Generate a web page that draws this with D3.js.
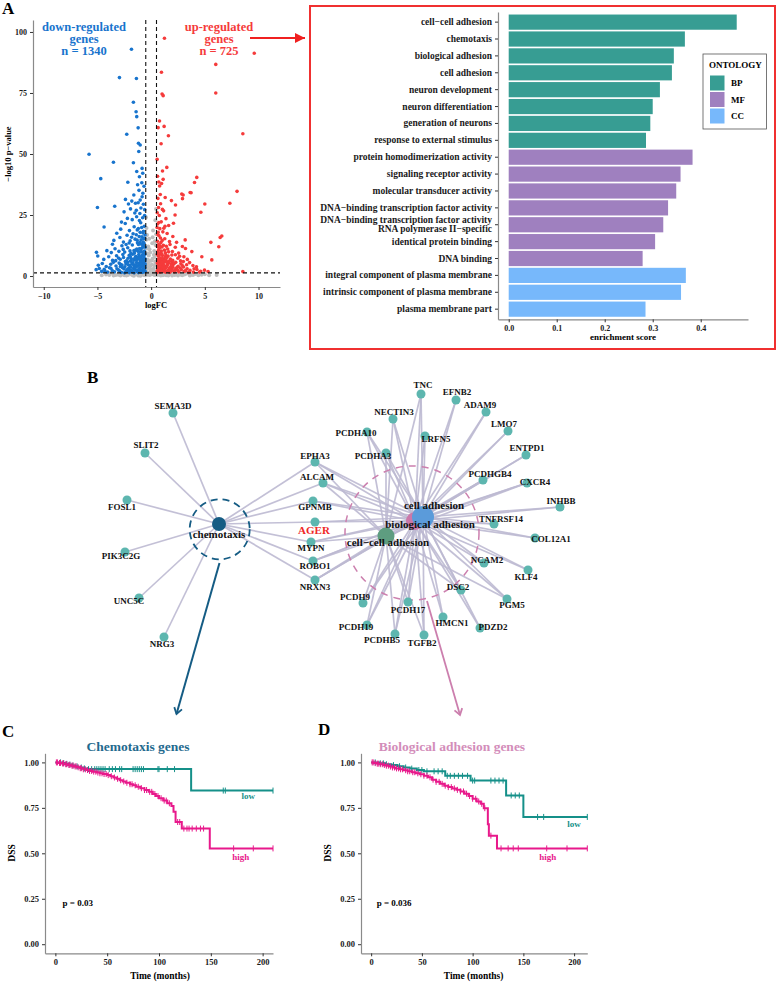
<!DOCTYPE html>
<html>
<head>
<meta charset="utf-8">
<script src="https://cdn.jsdelivr.net/npm/d3@7"></script>
<style>
  body { margin: 0; background: #fff; }
  svg text { font-family: "Liberation Serif", "Times New Roman", serif; font-weight: bold; }
</style>
</head>
<body>
<svg id="fig" width="777" height="984"></svg>
<script>
// ---------- data: volcano (logFC, -log10 p) ----------
const volcanoNS = [
  [-0.45,1.1],[-0.38,2.9],[-0.31,5.2],[-0.22,8.4],[-0.14,3.7],[-0.05,1.9],[0.06,4.6],[0.13,7.1],[0.21,2.4],[0.29,10.2],
  [0.37,5.9],[0.44,1.6],[-0.41,6.8],[-0.27,12.1],[-0.18,15.3],[-0.09,9.6],[0.02,6.3],[0.1,13.4],[0.18,18.6],[0.25,3.1],
  [0.33,7.8],[0.41,12.7],[-0.35,9.2],[-0.46,14.9],[0.47,17.1],[0.39,22.8],[-0.43,19.7],[0.46,27.5],[-0.48,24.1],[-0.25,0.8],
  [0.22,0.6],[-0.12,0.4],[0.08,0.9],[-0.33,3.6],[0.31,4.4],[-0.2,5.8],[0.16,2.2],[-0.4,11.3],[0.42,8.9],[-0.07,2.8],
  [-4.2,0.6],[-3.8,1.1],[-3.3,0.4],[-2.9,0.9],[-2.5,0.3],[-2.1,1.0],[-1.8,0.5],[-1.5,1.2],[-1.2,0.2],[-0.9,0.8],
  [-0.7,0.4],[0.7,0.5],[1.0,1.1],[1.4,0.3],[1.8,0.9],[2.2,0.4],[2.7,1.0],[3.1,0.6],[3.6,0.2],[4.1,0.8],
  [4.7,0.5],[5.4,0.3],[-3.5,0.2],[-2.7,0.7],[-1.6,0.1],[1.2,0.6],[2.5,0.2],[3.4,1.2],[0.9,0.2],[-1.0,0.1],
  [-2.3,0.2],[-1.35,0.7],[-0.6,1.0],[0.6,0.9],[1.6,0.2],[2.0,0.7],[2.9,0.3],[3.9,0.4],[-4.6,0.3],[6.1,0.4],
  [-3.05,0.5],[-2.85,0.2],[-2.45,0.9],[-2.15,0.4],[-1.95,1.1],[-1.7,0.3],[-1.42,0.8],[-1.1,0.5],[-0.82,1.2],[-0.55,0.3],
  [-0.3,1.3],[0.0,0.7],[0.3,1.2],[0.55,0.4],[0.8,1.0],[1.1,0.3],[1.3,1.0],[1.55,0.5],[1.95,0.2],[2.35,0.9],
  [2.8,0.5],[3.25,0.9],[3.75,0.6],[4.4,0.3],[5.0,0.7],[-3.9,0.4],[-0.28,6.6],[0.26,8.7],[-0.15,11.0],[0.14,15.9],
  [-0.38,16.8],[0.35,14.2],[-0.08,4.2],[0.05,2.4],[-0.44,4.3],[0.45,5.2],[-0.16,1.2],[0.12,1.5],[-0.32,0.5],[0.34,0.4]
];
const volcanoDown = [
  [-1.83,92.9],[-2.95,81.3],[-1.37,80.9],[-1.65,71.2],[-1.4,67.3],[-1.34,65.3],[-1.21,60.7],[-2.27,58.1],[-1.18,54.4],[-1.02,53.7],
  [-5.78,49.9],[-1.15,51],[-1.65,46.4],[-3.51,46.6],[-4.69,39.9],[-2.17,38.4],[-1.09,40.7],[-0.84,44.1],[-0.78,42.1],[-1.34,42.8],
  [-2.39,31.4],[-5.0,28.1],[-3.39,28.6],[-2.11,29.5],[-1.8,30.7],[-1.46,29.8],[-1.21,30],[-1.02,31.1],[-0.84,32.5],[-4.38,20.1],
  [-2.76,22.1],[-5.09,9.7],[-4.97,8.2],[-3.2,17.5],[-3.6,13],
  [-5.12,2.6],[-4.83,3.1],[-4.61,1.9],[-4.37,2.8],[-4.05,1.6],[-3.88,3.4],[-3.62,2.2],[-3.41,1.7],[-3.18,3.0],[-2.95,2.1],
  [-2.77,1.5],[-2.52,2.9],[-2.31,1.8],[-2.08,3.3],[-1.93,2.4],[-1.71,1.6],[-1.49,2.7],[-1.28,1.9],[-1.06,3.2],[-0.87,2.3],
  [-0.66,1.7],[-0.58,3.5],[-0.74,2.9],[-1.17,2.5],[-1.62,3.1],[-2.21,2.6],[-2.66,3.4],[-3.05,2.5],
  [-4.92,4.4],[-4.55,5.1],[-4.18,3.9],[-3.76,4.8],[-3.52,5.6],[-3.27,4.1],[-2.98,5.3],[-2.71,4.5],[-2.44,3.8],[-2.19,5.7],
  [-1.98,4.3],[-1.79,5.0],[-1.55,3.9],[-1.36,5.5],[-1.12,4.6],[-0.95,3.7],[-0.79,5.2],[-0.62,4.4],[-0.68,5.9],[-0.88,5.8],
  [-1.24,4.0],[-1.66,4.7],[-2.35,4.9],[-2.86,3.9],[-0.57,5.0],[-1.03,5.4],
  [-4.41,6.8],[-3.95,7.9],[-3.59,6.4],[-3.22,8.3],[-2.88,6.9],[-2.57,7.6],[-2.29,6.2],[-2.04,8.5],[-1.84,7.1],[-1.61,6.5],
  [-1.43,8.1],[-1.21,7.0],[-1.01,6.3],[-0.83,8.6],[-0.65,7.3],[-0.59,6.2],[-0.74,6.9],[-0.92,7.8],[-1.15,8.8],[-1.37,6.6],
  [-1.72,8.9],[-2.15,7.3],[-2.63,8.8],[-3.04,7.4],
  [-4.12,10.4],[-3.71,9.6],[-3.36,11.2],[-3.0,10.1],[-2.72,12.4],[-2.46,9.8],[-2.18,11.6],[-1.97,10.3],[-1.75,12.7],[-1.56,9.4],
  [-1.33,11.0],[-1.18,12.9],[-0.99,9.9],[-0.81,11.7],[-0.63,10.2],[-0.7,12.5],[-0.9,13.0],[-1.07,11.3],[-1.45,10.6],[-1.88,9.2],
  [-2.33,12.9],[-0.58,9.1],
  [-3.47,14.6],[-2.91,15.8],[-2.58,13.9],[-2.24,16.7],[-1.95,14.4],[-1.68,17.3],[-1.49,15.1],[-1.27,13.6],[-1.11,16.2],[-0.94,14.8],
  [-0.76,17.6],[-0.62,15.5],[-0.66,13.4],[-0.85,16.1],[-1.02,17.9],[-1.38,16.9],[-1.82,15.9],[-2.05,13.5],
  [-2.83,19.2],[-2.41,21.5],[-2.02,18.6],[-1.76,23.1],[-1.58,20.2],[-1.35,24.3],[-1.19,19.5],[-0.97,21.8],[-0.79,23.9],[-0.64,20.4],
  [-0.71,18.3],[-0.88,19.9],[-1.09,22.7],[-1.29,18.9],[-0.61,24.8],[-2.21,23.6],
  [-2.52,26.3],[-1.92,27.5],[-1.61,33.2],[-1.38,26.9],[-1.13,35.1],[-0.95,27.9],[-0.72,29.4],[-0.66,36.8],[-0.87,38.2],[-1.05,25.6],
  [-1.26,37.4],[-0.77,33.9],[-1.52,25.8],[-0.6,27.2],
  [-2.47,1.3],[-2.26,2.2],[-2.03,1.4],[-1.87,3.6],[-1.77,2.1],[-1.58,1.3],[-1.41,3.7],[-1.33,2.3],[-1.19,1.4],[-1.11,2.8],
  [-0.98,1.6],[-0.93,4.1],[-0.81,1.5],[-0.72,3.9],[-0.63,2.6],[-0.55,1.9],[-0.6,4.7],[-0.71,4.6],[-0.84,4.4],[-1.0,4.9],
  [-1.21,5.2],[-1.45,4.5],[-1.7,5.4],[-1.92,6.1],[-2.12,4.6],[-2.4,5.9],[-0.56,7.0],[-0.69,8.1],[-0.78,6.2],[-0.97,7.1],
  [-1.07,8.0],[-1.28,7.7],[-1.52,7.3],[-1.94,8.0],[-0.61,8.8],[-0.77,9.7],[-0.94,10.8],[-1.22,10.1],[-1.6,10.4],[-0.56,11.8],
  [-0.74,13.9],[-1.04,13.7],[-0.57,16.8],[-0.7,15.3],[-1.3,14.7],[-2.6,10.9],[-3.3,6.3],[-2.85,4.8],[-3.75,3.2],[-4.3,2.0]
];
const volcanoUp = [
  [1.24,97.4],[9.6,91.3],[6.02,86.7],[0.96,83.5],[1.02,74.6],[1.12,73.9],[6.02,75],[0.78,63.5],[1.21,61.3],[0.65,60.8],
  [1.61,57.5],[8.54,58.3],[0.93,54.2],[0.56,47.8],[1.46,44.5],[4.25,40.4],[4.04,38.3],[1.06,43],[8.0,34.7],[3.63,34.2],
  [2.92,31.7],[2.98,33.2],[5.0,29.5],[7.33,29.8],[1.89,30.9],[2.27,29.1],[4.63,26.1],[6.58,16.4],[6.43,15.8],[5.56,13.8],
  [6.3,12],[8.54,1.8],[5.3,1.8],[2.85,33.6],[3.72,34.1],[2.23,25],[2.08,21.6],[3.17,14.8],[3.79,10],[4.72,7.9],[5.65,6.6],
  [0.58,2.1],[0.71,3.2],[0.86,1.6],[1.02,2.7],[1.19,1.9],[1.37,3.4],[1.55,2.2],[1.74,1.5],[1.92,2.9],[2.13,2.0],
  [2.34,3.1],[2.58,1.7],[2.81,2.6],[3.07,1.9],[3.35,3.0],[3.62,2.3],[3.94,1.6],[4.26,2.7],[4.61,1.9],[4.97,2.4],
  [0.64,2.7],[0.93,3.0],[1.28,2.5],[1.66,2.8],[2.22,2.5],[2.71,3.3],[3.21,2.2],[0.79,1.8],
  [0.61,4.2],[0.76,5.3],[0.92,3.8],[1.08,4.9],[1.26,5.7],[1.43,4.1],[1.61,5.2],[1.83,3.9],[2.05,4.7],[2.29,5.6],
  [2.52,4.0],[2.77,5.0],[3.02,3.7],[3.31,4.6],[3.58,5.5],[3.89,4.3],[4.22,3.8],[0.68,5.9],[0.99,4.5],[1.17,3.7],
  [1.52,4.6],[1.95,5.8],[2.41,3.6],
  [0.6,6.6],[0.74,7.8],[0.89,6.3],[1.05,8.4],[1.21,7.1],[1.39,6.5],[1.58,8.2],[1.79,7.0],[2.01,6.4],[2.26,8.7],
  [2.49,7.3],[2.74,6.2],[3.05,7.9],[3.37,6.8],[0.83,8.9],[1.13,6.0],[1.47,7.6],[0.66,8.3],[1.93,8.6],
  [0.62,9.8],[0.77,11.4],[0.95,10.2],[1.14,12.6],[1.33,9.5],[1.54,11.1],[1.76,12.9],[1.98,10.0],[2.25,11.8],[2.56,9.4],
  [2.91,12.1],[0.7,12.9],[1.01,11.9],[1.41,12.2],[0.86,9.3],[3.2,11.3],
  [0.59,14.2],[0.73,16.5],[0.91,13.7],[1.09,18.1],[1.27,15.3],[1.49,17.4],[1.71,14.1],[2.02,16.2],[2.37,13.8],[0.81,19.4],
  [0.65,17.9],[1.18,19.6],
  [0.6,21.3],[0.76,24.8],[0.94,22.2],[1.16,26.7],[1.38,23.5],[1.63,20.7],[0.69,28.1],[0.88,29.6],[1.05,27.3],[0.57,25.9],
  [1.29,20.4],[0.63,31.8],[0.79,36.9],[0.72,38.5],[0.97,37.9],[0.6,40.9],[1.12,39.6],[0.85,33.4],[1.31,32.2],
  [0.56,1.5],[0.67,3.7],[0.74,2.4],[0.84,4.1],[0.98,1.9],[1.09,3.5],[1.23,2.9],[1.33,1.6],[1.45,3.9],[1.6,1.8],
  [1.72,3.3],[1.87,2.2],[2.03,3.6],[2.18,1.7],[2.46,2.4],[0.58,5.3],[0.72,6.8],[0.81,4.8],[0.97,5.7],[1.04,7.2],
  [1.18,4.4],[1.32,7.9],[1.48,5.6],[1.69,6.1],[1.88,5.0],[2.15,5.1],[0.57,8.9],[0.69,10.6],[0.84,7.3],[0.99,9.1],
  [1.24,10.6],[1.37,8.6],[1.63,9.9],[0.58,12.1],[0.82,12.4],[1.03,14.6],[0.62,17.0],[0.87,15.6],[0.56,19.9],[0.72,21.9],
  [2.9,4.3],[3.5,1.5],[4.0,3.0],[4.5,1.6],[2.65,8.1],[3.0,5.9]
];
const volcanoXTicks = [-10, -5, 0, 5, 10];
const volcanoYTicks = [0, 25, 50, 75, 100];
const fcCut = 0.5, pCut = 1.3;
const downCount = 1340, upCount = 725;

// ---------- data: GO enrichment ----------
const goTerms = [
  "cell−cell adhesion", "chemotaxis", "biological adhesion", "cell adhesion", "neuron development",
  "neuron differentiation", "generation of neurons", "response to external stimulus",
  "protein homodimerization activity", "signaling receptor activity", "molecular transducer activity",
  "DNA−binding transcription factor activity",
  "DNA−binding transcription factor activity\nRNA polymerase II−specific",
  "identical protein binding", "DNA binding", "integral component of plasma membrane",
  "intrinsic component of plasma membrane", "plasma membrane part"
];
const goScores = [0.475, 0.367, 0.344, 0.340, 0.315, 0.300, 0.295, 0.286, 0.383, 0.358, 0.349, 0.332, 0.322, 0.305, 0.279, 0.369, 0.359, 0.285];
const goOntology = ["BP","BP","BP","BP","BP","BP","BP","BP","MF","MF","MF","MF","MF","MF","MF","CC","CC","CC"];
const ontologyLevels = ["BP", "MF", "CC"];
const scoreTicks = [0, 0.1, 0.2, 0.3, 0.4];

// ---------- data: network (layout coordinates) ----------
const geneNodes = [
  ["SEMA3D",63,33],["SLIT2",35,73],["FOSL1",17,120],["PIK3C2G",15,172],["UNC5C",29,218],["NRG3",54,257],
  ["EPHA3",205,82],["ALCAM",213,103],["GPNMB",203,121],["AGER",205,142],["MYPN",201,162],["ROBO1",203,181],["NRXN3",205,200],
  ["PCDH9",253,223],["PCDH19",257,245],["PCDHB5",285,254],["TGFB2",314,255],["HMCN1",333,237],["PDZD2",370,248],
  ["PGM5",397,219],["DSC2",351,210],["PCDH17",298,222],["KLF4",418,190],["NCAM2",374,183],["COL12A1",425,158],
  ["TNFRSF14",384,144],["INHBB",450,127],["CXCR4",417,103],["PCDHGB4",373,100],["ENTPD1",416,75],["LMO7",398,51],
  ["ADAM9",376,32],["EFNB2",346,20],["TNC",311,14],["NECTIN3",283,39],["LRFN5",315,56],["PCDHA10",257,52],["PCDHA3",276,73]
];
const termNodes = [
  ["chemotaxis",109,144],["biological adhesion",305,141],["cell−cell adhesion",276,156],["cell adhesion",313,137]
];
const chemotaxisGenes = ["SEMA3D","SLIT2","FOSL1","PIK3C2G","UNC5C","NRG3","EPHA3","ALCAM","GPNMB","AGER","MYPN","ROBO1","NRXN3"];
const adhesionGenes = ["EPHA3","ALCAM","GPNMB","AGER","MYPN","ROBO1","NRXN3","PCDH9","PCDH19","PCDHB5","TGFB2","HMCN1","PDZD2",
  "PGM5","DSC2","PCDH17","KLF4","NCAM2","COL12A1","TNFRSF14","INHBB","CXCR4","PCDHGB4","ENTPD1","LMO7","ADAM9","EFNB2","TNC",
  "NECTIN3","LRFN5","PCDHA10","PCDHA3"];
const cellCellGenes = ["PCDHA10","PCDHA3","NECTIN3","PCDH9","PCDH19","PCDHB5","PCDH17","PCDHGB4","DSC2","ALCAM","ROBO1",
  "MYPN","NRXN3","EPHA3","TGFB2","PGM5","CXCR4","TNC"];

// ---------- data: survival curves [months, DSS] ----------
const chemoLow = [[0,1],[6,0.996],[10,0.992],[13,0.988],[16,0.983],[19,0.978],[22,0.972],[26,0.967],[30,0.963],[131,0.845],[210,0.845]];
const chemoLowCens = [5,8,11,14,17,21,25,28,32,35,38,40,42,44,46,48,52,55,58,62,64,75,77,79,81,83,85,99,100,108,115,162,164,210];
const chemoHigh = [[0,1],[3,0.997],[6,0.994],[9,0.99],[12,0.986],[15,0.982],[18,0.978],[21,0.973],[24,0.968],[27,0.962],
  [30,0.958],[33,0.953],[36,0.949],[40,0.944],[43,0.94],[46,0.936],[50,0.93],[53,0.924],[56,0.917],[59,0.91],[62,0.902],
  [65,0.895],[68,0.888],[72,0.88],[75,0.874],[78,0.866],[82,0.858],[86,0.848],[90,0.838],[94,0.826],[97,0.815],[100,0.803],
  [104,0.79],[108,0.775],[112,0.76],[114,0.728],[116,0.672],[122,0.636],[149,0.527],[210,0.527]];
const chemoHighCens = [1,2,4,5,7,8,10,11,13,14,16,17,19,20,22,24,25,27,29,31,33,35,37,39,41,43,45,47,49,51,54,57,60,63,66,69,
  72,74,77,80,83,86,88,91,93,96,99,102,105,107,110,118,120,124,127,129,132,136,140,143,172,191,210];
const adhLow = [[0,1],[8,0.995],[14,0.99],[20,0.985],[26,0.979],[32,0.972],[38,0.966],[45,0.958],[52,0.951],[73,0.926],
  [98,0.9],[133,0.818],[150,0.70],[213,0.70]];
const adhLowCens = [4,9,12,15,22,28,34,40,47,50,55,62,66,70,75,78,82,86,90,95,100,102,118,122,126,130,138,142,146,164,170,213];
const adhHigh = [[0,1],[3,0.996],[6,0.993],[9,0.99],[12,0.986],[15,0.982],[18,0.977],[21,0.972],[24,0.967],[28,0.962],
  [32,0.957],[36,0.951],[40,0.946],[44,0.94],[48,0.935],[52,0.927],[56,0.918],[60,0.905],[64,0.893],[68,0.882],[72,0.872],
  [76,0.864],[80,0.857],[84,0.849],[88,0.84],[92,0.828],[96,0.815],[100,0.8],[104,0.785],[108,0.772],[111,0.748],
  [115,0.66],[116,0.597],[124,0.527],[213,0.527]];
const adhHighCens = [1,2,4,6,7,9,11,13,15,17,19,21,23,25,27,29,31,34,36,38,41,43,46,49,52,55,58,61,64,67,70,73,76,79,82,
  85,88,91,94,97,100,103,106,109,112,118,128,135,140,145,173,193,213];
const survXTicks = [0, 50, 100, 150, 200];
const survYTicks = [0, 0.25, 0.5, 0.75, 1];

// ---------- colours ----------
const colDown = "#1874CD", colUp = "#F53B3B", colNS = "#BEBEBE";
const ontoColor = d3.scaleOrdinal().domain(ontologyLevels).range(["#379D93", "#9F80BF", "#77B8FB"]);
const colLow = "#159089", colHigh = "#E8198B";
const colChemo = "#155C84", colAdh = "#CC7FAE";

const svg = d3.select("#fig");
const defs = svg.append("defs");
defs.append("marker").attr("id", "arrRed").attr("viewBox", "-10 -5 10 10").attr("refX", 0).attr("refY", 0)
  .attr("markerWidth", 10).attr("markerHeight", 10).attr("markerUnits", "userSpaceOnUse").attr("orient", "auto")
  .append("path").attr("d", "M-10,-5L0,0L-10,5Z").attr("fill", "#F02020");
[["arrBlue", colChemo], ["arrPink", colAdh]].forEach(([id, c]) => {
  defs.append("marker").attr("id", id).attr("viewBox", "-8 -5 10 10").attr("refX", 0).attr("refY", 0)
    .attr("markerWidth", 10).attr("markerHeight", 10).attr("markerUnits", "userSpaceOnUse").attr("orient", "auto")
    .append("path").attr("d", "M-6,-4L0,0L-6,4").attr("fill", "none").attr("stroke", c).attr("stroke-width", 1.8);
});

function styleAxis(g, fs) {
  g.attr("font-size", fs);
  g.select(".domain").attr("stroke", "#8a8a8a").attr("stroke-width", 1.2);
  g.selectAll(".tick line").attr("stroke", "#333");
  g.selectAll(".tick text").attr("fill", "#1a1a1a");
}

function panelLetter(t, x, y) {
  svg.append("text").attr("x", x).attr("y", y).attr("font-size", 17).text(t);
}

// ======== A: volcano ========
panelLetter("A", 2, 14);
const vx = d3.scaleLinear().domain([-11, 12]).range([33, 280]);
const vy = d3.scaleLinear().domain([-4.5, 104.9]).range([287, 20]);

const vPts = svg.append("g");
vPts.selectAll(".ns").data(volcanoNS).join("circle")
  .attr("cx", d => vx(d[0])).attr("cy", d => vy(d[1])).attr("r", 2).attr("fill", colNS);
vPts.selectAll(".dn").data(volcanoDown).join("circle")
  .attr("cx", d => vx(d[0])).attr("cy", d => vy(d[1])).attr("r", 1.8).attr("fill", colDown);
vPts.selectAll(".up").data(volcanoUp).join("circle")
  .attr("cx", d => vx(d[0])).attr("cy", d => vy(d[1])).attr("r", 1.8).attr("fill", colUp);

const dash = svg.append("g").attr("stroke", "#111").attr("stroke-width", 1.1).attr("stroke-dasharray", "4,3");
[-fcCut, fcCut].forEach(v => dash.append("line").attr("x1", vx(v)).attr("x2", vx(v)).attr("y1", 20).attr("y2", 287));
dash.append("line").attr("x1", 33).attr("x2", 280).attr("y1", vy(pCut)).attr("y2", vy(pCut));

svg.append("g").attr("transform", "translate(0,287)")
  .call(d3.axisBottom(vx).tickValues(volcanoXTicks).tickSize(3).tickSizeOuter(0))
  .call(g => styleAxis(g, 8));
svg.append("g").attr("transform", "translate(33,0)")
  .call(d3.axisLeft(vy).tickValues(volcanoYTicks).tickSize(3).tickSizeOuter(0))
  .call(g => styleAxis(g, 8));
svg.append("text").attr("x", 156).attr("y", 308).attr("text-anchor", "middle").attr("font-size", 8.5).text("logFC");
svg.append("text").attr("transform", "translate(11,154) rotate(-90)").attr("text-anchor", "middle")
  .attr("font-size", 8.5).text("−log10 p−value");

const downTxt = svg.append("text").attr("text-anchor", "middle").attr("font-size", 12.5).attr("fill", colDown);
["down-regulated", "genes", "n = " + downCount].forEach((t, i) =>
  downTxt.append("tspan").attr("x", 84).attr("y", 31 + i * 12.2).text(t));
const upTxt = svg.append("text").attr("text-anchor", "middle").attr("font-size", 12.5).attr("fill", colUp);
["up-regulated", "genes", "n = " + upCount].forEach((t, i) =>
  upTxt.append("tspan").attr("x", 219).attr("y", 31 + i * 12.2).text(t));

svg.append("line").attr("x1", 250).attr("y1", 38).attr("x2", 305).attr("y2", 38)
  .attr("stroke", "#F02020").attr("stroke-width", 1.8).attr("marker-end", "url(#arrRed)");

// ======== A: GO bar chart ========
svg.append("rect").attr("x", 310).attr("y", 6).attr("width", 465).attr("height", 343)
  .attr("fill", "none").attr("stroke", "#F03030").attr("stroke-width", 2);

const bx = d3.scaleLinear().domain([-0.0223, 0.4985]).range([498, 748]);
const by = d3.scaleBand().domain(goTerms).range([12, 319.3]).paddingInner(0.1).paddingOuter(0.15);

svg.append("g").selectAll("rect").data(goTerms).join("rect")
  .attr("x", bx(0)).attr("y", d => by(d))
  .attr("width", (d, i) => bx(goScores[i]) - bx(0)).attr("height", by.bandwidth())
  .attr("fill", (d, i) => ontoColor(goOntology[i]));

const yAx = svg.append("g").attr("transform", "translate(498,0)")
  .call(d3.axisLeft(by).tickSize(3).tickSizeOuter(0))
  .call(g => styleAxis(g, 9.5));
yAx.selectAll(".tick text").each(function (d) {
  const lines = d.split("\n");
  if (lines.length < 2) return;
  const t = d3.select(this).text(null);
  lines.forEach((l, i) => t.append("tspan").attr("x", -6).attr("dy", i === 0 ? "-0.2em" : "1.0em").text(l));
});
svg.append("g").attr("transform", "translate(0,319.3)")
  .call(d3.axisBottom(bx).tickValues(scoreTicks).tickFormat(d3.format(".1f")).tickSize(3).tickSizeOuter(0))
  .call(g => styleAxis(g, 8));
svg.append("text").attr("x", 623).attr("y", 340).attr("text-anchor", "middle").attr("font-size", 9).text("enrichment score");

const leg = svg.append("g").attr("transform", "translate(703,54)");
leg.append("rect").attr("width", 63.5).attr("height", 75).attr("fill", "#fff").attr("stroke", "#555").attr("stroke-width", 0.8);
leg.append("text").attr("x", 6).attr("y", 14).attr("font-size", 9).text("ONTOLOGY");
ontologyLevels.forEach((k, i) => {
  leg.append("rect").attr("x", 7).attr("y", 21.5 + i * 16.5).attr("width", 14.5).attr("height", 15).attr("fill", ontoColor(k));
  leg.append("text").attr("x", 28).attr("y", 32 + i * 16.5).attr("font-size", 9).text(k);
});

// ======== B: network ========
panelLetter("B", 87, 383);
const nx = d3.scaleLinear().domain([0, 460]).range([110, 570]);
const ny = d3.scaleLinear().domain([0, 270]).range([380, 650]);
const pos = {};
geneNodes.concat(termNodes).forEach(([n, x, y]) => { pos[n] = [nx(x), ny(y)]; });

const edges = [];
chemotaxisGenes.forEach(g => edges.push(["chemotaxis", g]));
adhesionGenes.forEach(g => { edges.push(["biological adhesion", g]); edges.push(["cell adhesion", g]); });
cellCellGenes.forEach(g => edges.push(["cell−cell adhesion", g]));

svg.append("g").selectAll("line").data(edges).join("line")
  .attr("x1", d => pos[d[0]][0]).attr("y1", d => pos[d[0]][1])
  .attr("x2", d => pos[d[1]][0]).attr("y2", d => pos[d[1]][1])
  .attr("stroke", "#BDB9D2").attr("stroke-width", 1.7).attr("stroke-opacity", 0.9);

svg.append("circle").attr("cx", nx(109.7)).attr("cy", ny(149.3)).attr("r", 30)
  .attr("fill", "none").attr("stroke", colChemo).attr("stroke-width", 1.8).attr("stroke-dasharray", "7,5");
svg.append("circle").attr("cx", nx(302)).attr("cy", ny(153)).attr("r", 67)
  .attr("fill", "none").attr("stroke", colAdh).attr("stroke-width", 1.5).attr("stroke-dasharray", "7,6");

svg.append("g").selectAll("circle").data(geneNodes).join("circle")
  .attr("cx", d => pos[d[0]][0]).attr("cy", d => pos[d[0]][1]).attr("r", 4.5).attr("fill", "#5DB6AF");

const hubStyle = {
  "chemotaxis": [7, colChemo], "biological adhesion": [9, "#CB78A9"],
  "cell−cell adhesion": [8.5, "#5E9D80"], "cell adhesion": [11, "#5B9BDA"]
};
svg.append("g").selectAll("circle").data(termNodes).join("circle")
  .attr("cx", d => pos[d[0]][0]).attr("cy", d => pos[d[0]][1])
  .attr("r", d => hubStyle[d[0]][0]).attr("fill", d => hubStyle[d[0]][1]);

const labelOffset = {
  SEMA3D:[0,-7],SLIT2:[1,-8],FOSL1:[-5,7],PIK3C2G:[-4,4],UNC5C:[-10,3],NRG3:[-2,7],EPHA3:[0,-6],ALCAM:[-6,-6],
  GPNMB:[2,6],AGER:[-1,8],MYPN:[0,6],ROBO1:[2,5],NRXN3:[0,7],PCDH9:[-8,-6],PCDH19:[-11,2],PCDHB5:[-13,6],TGFB2:[-2,8],
  HMCN1:[9,6],PDZD2:[13,-1],PGM5:[5,6],DSC2:[-3,-3],PCDH17:[0,8],KLF4:[-2,7],NCAM2:[3,-3],COL12A1:[16,1],
  TNFRSF14:[7,-5],INHBB:[1,-6],CXCR4:[8,-1],PCDHGB4:[7,-6],ENTPD1:[1,-7],LMO7:[-4,-7],ADAM9:[-6,-7],EFNB2:[1,-8],
  TNC:[2,-9],NECTIN3:[1,-7],LRFN5:[11,3],PCDHA10:[-11,1],PCDHA3:[-13,3],
  "chemotaxis":[0,10],"cell adhesion":[11,-12],"biological adhesion":[15,3],"cell−cell adhesion":[2,6]
};
svg.append("g").selectAll("text").data(geneNodes.concat(termNodes)).join("text")
  .attr("x", d => pos[d[0]][0] + labelOffset[d[0]][0])
  .attr("y", d => pos[d[0]][1] + labelOffset[d[0]][1])
  .attr("dy", "0.35em").attr("text-anchor", "middle")
  .attr("font-size", d => d[0] === "AGER" ? 11 : (hubStyle[d[0]] ? 11 : 9))
  .attr("fill", d => d[0] === "AGER" ? "#F02828" : "#111")
  .text(d => d[0]);

svg.append("line").attr("x1", nx(109.5)).attr("y1", ny(183)).attr("x2", 176.5).attr("y2", 714)
  .attr("stroke", colChemo).attr("stroke-width", 2).attr("marker-end", "url(#arrBlue)");
svg.append("line").attr("x1", nx(317)).attr("y1", ny(221)).attr("x2", 460).attr("y2", 715)
  .attr("stroke", colAdh).attr("stroke-width", 1.8).attr("marker-end", "url(#arrPink)");

// ======== C / D: survival ========
function stepAt(curve, t) {
  let s = curve[0][1];
  curve.forEach(([tt, ss]) => { if (tt <= t) s = ss; });
  return s;
}

function drawKM(o) {
  const x = d3.scaleLinear().domain(o.xDomain).range([o.left, o.right]);
  const y = d3.scaleLinear().domain([-0.05, 1.05]).range([953.3, 753.3]);
  const g = svg.append("g");
  const line = d3.line().x(d => x(d[0])).y(d => y(d[1])).curve(d3.curveStepAfter);
  [[o.low, o.lowCens, colLow], [o.high, o.highCens, colHigh]].forEach(([curve, cens, c]) => {
    g.append("path").datum(curve).attr("d", line).attr("fill", "none").attr("stroke", c).attr("stroke-width", 2);
    g.selectAll(null).data(cens).join("line")
      .attr("x1", t => x(t)).attr("x2", t => x(t))
      .attr("y1", t => y(stepAt(curve, t)) - 3).attr("y2", t => y(stepAt(curve, t)) + 3)
      .attr("stroke", c).attr("stroke-width", 1);
  });
  svg.append("g").attr("transform", "translate(0,953.3)")
    .call(d3.axisBottom(x).tickValues(survXTicks).tickSize(3).tickSizeOuter(0))
    .call(a => styleAxis(a, 8.5));
  svg.append("g").attr("transform", `translate(${o.left},0)`)
    .call(d3.axisLeft(y).tickValues(survYTicks).tickFormat(d3.format(".2f")).tickSize(3).tickSizeOuter(0))
    .call(a => styleAxis(a, 8.5));
  svg.append("text").attr("x", (x(0) + x(200)) / 2 + 1).attr("y", 979).attr("text-anchor", "middle")
    .attr("font-size", 9.5).text("Time (months)");
  svg.append("text").attr("transform", `translate(${o.left - 30},853) rotate(-90)`).attr("text-anchor", "middle")
    .attr("font-size", 9.5).text("DSS");
  svg.append("text").attr("x", o.titleX).attr("y", 751).attr("text-anchor", "middle").attr("font-size", 13.5)
    .attr("fill", o.titleColor).text(o.title);
  svg.append("text").attr("x", x(o.lowLabel[0])).attr("y", y(o.lowLabel[1])).attr("text-anchor", "middle")
    .attr("font-size", 9).attr("fill", colLow).text("low");
  svg.append("text").attr("x", x(o.highLabel[0])).attr("y", y(o.highLabel[1])).attr("text-anchor", "middle")
    .attr("font-size", 9).attr("fill", colHigh).text("high");
  svg.append("text").attr("x", x(o.pPos[0])).attr("y", y(o.pPos[1])).attr("font-size", 9).text(o.pText);
}

panelLetter("C", 2, 737);
drawKM({
  left: 45, right: 273, xDomain: [-10, 210],
  low: chemoLow, lowCens: chemoLowCens, high: chemoHigh, highCens: chemoHighCens,
  title: "Chemotaxis genes", titleX: 138, titleColor: "#1F6A8E",
  lowLabel: [186, 0.8], highLabel: [179, 0.465], pPos: [7, 0.21], pText: "p = 0.03"
});

panelLetter("D", 318, 735);
drawKM({
  left: 361, right: 587.3, xDomain: [-10, 213],
  low: adhLow, lowCens: adhLowCens, high: adhHigh, highCens: adhHighCens,
  title: "Biological adhesion genes", titleX: 452, titleColor: "#D38DBA",
  lowLabel: [200, 0.645], highLabel: [174, 0.465], pPos: [5.5, 0.21], pText: "p = 0.036"
});
</script>
</body>
</html>
